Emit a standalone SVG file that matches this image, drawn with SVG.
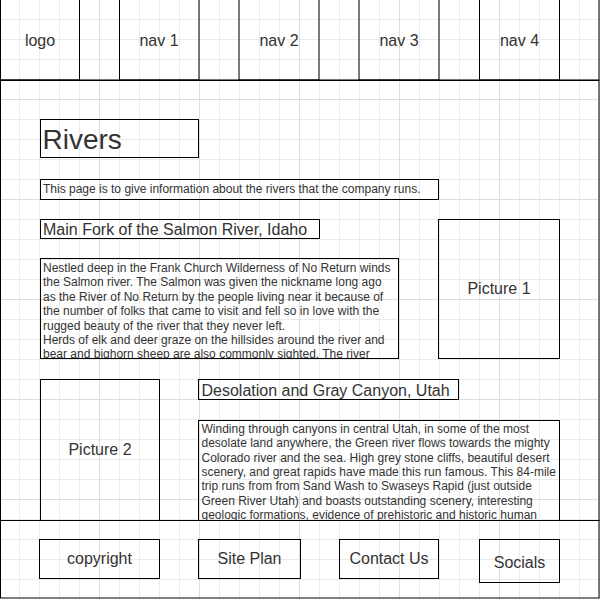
<svg xmlns="http://www.w3.org/2000/svg" width="600" height="599" viewBox="0 0 600 599">
<style>
.box{fill:none;stroke:#000;stroke-width:1}
.t{font-family:"Liberation Sans",Arial,sans-serif;fill:#333333}
.c{text-anchor:middle;font-size:16px}
.s{font-size:12px}
.h{font-size:16px}
</style>
<defs>
<pattern id="minor" width="20" height="20" patternUnits="userSpaceOnUse">
<rect x="19" y="0" width="1" height="20" fill="#ebebeb"/>
<rect x="0" y="19" width="20" height="1" fill="#ebebeb"/>
</pattern>
<pattern id="major" width="100" height="100" patternUnits="userSpaceOnUse">
<rect x="99" y="0" width="1" height="100" fill="#dedede"/>
<rect x="0" y="99" width="100" height="1" fill="#dedede"/>
</pattern>
<clipPath id="clipSalmon"><rect x="40" y="258" width="359" height="100"/></clipPath>
<clipPath id="clipGreen"><rect x="198" y="420" width="362" height="100"/></clipPath>
</defs>
<rect width="600" height="599" fill="#ffffff"/>
<rect width="600" height="599" fill="url(#minor)"/>
<rect width="600" height="599" fill="url(#major)"/>

<g id="header">
<rect class="box" x="0.5" y="-1" width="598.5" height="81"/>
</g>
<g id="logo"><rect class="box" x="0.5" y="-1" width="79" height="81"/><text class="t c" x="40" y="45.5">logo</text></g>
<g id="nav1"><rect class="box" x="119.5" y="-1" width="79.5" height="81"/><text class="t c" x="159" y="45.5">nav 1</text></g>
<g id="nav2"><rect class="box" x="239" y="-1" width="80" height="81"/><text class="t c" x="279" y="45.5">nav 2</text></g>
<g id="nav3"><rect class="box" x="359" y="-1" width="80" height="81"/><text class="t c" x="399" y="45.5">nav 3</text></g>
<g id="nav4"><rect class="box" x="479.5" y="-1" width="80" height="81"/><text class="t c" x="519.5" y="45.5">nav 4</text></g>

<g id="body"><rect class="box" x="0.5" y="80.5" width="598.5" height="440"/></g>

<g id="title"><rect class="box" x="40.5" y="119.5" width="158" height="38"/><text class="t" x="42.5" y="148.5" font-size="28">Rivers</text></g>
<g id="intro"><rect class="box" x="40.5" y="179.5" width="398" height="20"/><text class="t s" x="43" y="193.3">This page is to give information about the rivers that the company runs.</text></g>
<g id="salmon-title"><rect class="box" x="40.5" y="219.5" width="279" height="19"/><text class="t h" x="43" y="235">Main Fork of the Salmon River, Idaho</text></g>
<g id="salmon-text">
<rect class="box" x="40.5" y="258.5" width="358" height="100"/>
<g clip-path="url(#clipSalmon)">
<text class="t s" x="43" y="272">Nestled deep in the Frank Church Wilderness of No Return winds</text>
<text class="t s" x="43" y="286.4">the Salmon river. The Salmon was given the nickname long ago</text>
<text class="t s" x="43" y="300.8">as the River of No Return by the people living near it because of</text>
<text class="t s" x="43" y="315.2">the number of folks that came to visit and fell so in love with the</text>
<text class="t s" x="43" y="329.6">rugged beauty of the river that they never left.</text>
<text class="t s" x="43" y="344">Herds of elk and deer graze on the hillsides around the river and</text>
<text class="t s" x="43" y="358.4">bear and bighorn sheep are also commonly sighted. The river</text>
</g>
</g>
<g id="picture1"><rect class="box" x="438.5" y="219.5" width="121" height="139"/><text class="t c" x="499" y="294.3">Picture 1</text></g>
<g id="picture2"><rect class="box" x="40.5" y="379.5" width="119" height="141"/><text class="t c" x="100" y="455">Picture 2</text></g>
<g id="green-title"><rect class="box" x="198.5" y="379.5" width="260" height="20"/><text class="t h" x="201.5" y="395.7">Desolation and Gray Canyon, Utah</text></g>
<g id="green-text">
<rect class="box" x="198.5" y="420.5" width="361" height="100"/>
<g clip-path="url(#clipGreen)">
<text class="t s" x="201.5" y="432.7">Winding through canyons in central Utah, in some of the most</text>
<text class="t s" x="201.5" y="447.1">desolate land anywhere, the Green river flows towards the mighty</text>
<text class="t s" x="201.5" y="461.5">Colorado river and the sea. High grey stone cliffs, beautiful desert</text>
<text class="t s" x="201.5" y="475.9">scenery, and great rapids have made this run famous. This 84-mile</text>
<text class="t s" x="201.5" y="490.3">trip runs from from Sand Wash to Swaseys Rapid (just outside</text>
<text class="t s" x="201.5" y="504.7">Green River Utah) and boasts outstanding scenery, interesting</text>
<text class="t s" x="201.5" y="519.1">geologic formations, evidence of prehistoric and historic human</text>
</g>
</g>

<g id="footer"><rect class="box" x="0.5" y="520.5" width="598.5" height="77.5"/></g>
<g id="copyright"><rect class="box" x="39.5" y="539.5" width="120" height="39"/><text class="t c" x="99.5" y="564.3">copyright</text></g>
<g id="site-plan"><rect class="box" x="198.5" y="539.5" width="102" height="39"/><text class="t c" x="249.5" y="564">Site Plan</text></g>
<g id="contact-us"><rect class="box" x="339.5" y="539.5" width="99" height="39"/><text class="t c" x="389" y="563.7">Contact Us</text></g>
<g id="socials"><rect class="box" x="479.5" y="539.5" width="80" height="43"/><text class="t c" x="519.5" y="567.5">Socials</text></g>
<g id="connectors"/>
</svg>
